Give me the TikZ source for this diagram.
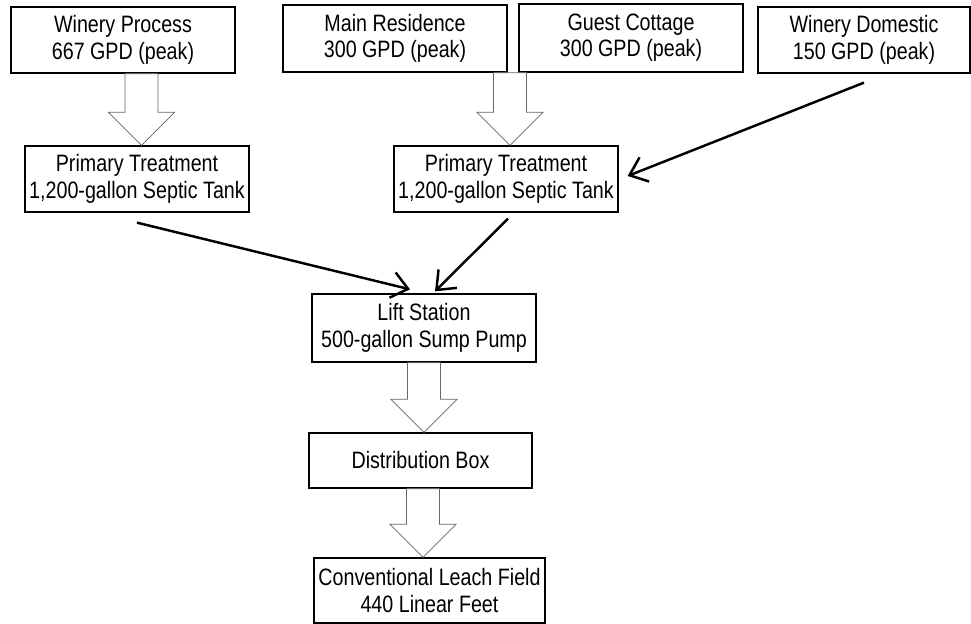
\documentclass[tikz,border=0pt]{standalone}
\usepackage{fontspec}
\setmainfont[FakeStretch=0.83]{Liberation Sans}
\usetikzlibrary{arrows.meta}
\usetikzlibrary{calc}
\def\shafthalf{0.33cm}
\def\headhalf{0.66cm}
\def\headlen{0.66cm}
\tikzset{
x=0.02cm,y=-0.02cm, % 1 unit = 1 pixel of the drawing
my box/.style={draw,line width=0.75pt,align=center,inner sep=0pt,
  font=\fontsize{13.5}{15}\selectfont,
  minimum width=4.48cm,minimum height=1.32cm},
flow/.style={-{Straight Barb[length=3.2mm,width=5.2mm]},line width=1.4pt},
fat/.style={draw=black!60,line width=0.45pt,fill=white}
}
% hollow block arrow: from a start point straight down to the y of an end point
\newcommand\fatarrow[2]{%
  \draw[fat] let \p1=#1, \p2=#2 in
    (\x1-\shafthalf,\y1) -- (\x1+\shafthalf,\y1) -- (\x1+\shafthalf,\y2+\headlen)
    -- (\x1+\headhalf,\y2+\headlen) -- (\x1,\y2) -- (\x1-\headhalf,\y2+\headlen)
    -- (\x1-\shafthalf,\y2+\headlen) -- cycle;}

\begin{document}
\begin{tikzpicture}
\useasboundingbox (0,0) rectangle (971,624);
% sources
\node[my box] (wp) at (123,40) {Winery Process\\667 GPD (peak)};
\node[my box,minimum height=1.34cm] (mr) at (395,38.5) {Main Residence\\300 GPD (peak)};
\node[my box,minimum height=1.36cm] (gc) at (631,38) {Guest Cottage\\300 GPD (peak)};
\node[my box,minimum width=4.24cm] (wd) at (864,40) {Winery Domestic\\150 GPD (peak)};
% tanks
\node[my box] (pt1) at (137,179) {Primary Treatment\\1,200-gallon Septic Tank};
\node[my box] (pt2) at (506,179) {Primary Treatment\\1,200-gallon Septic Tank};
\node[my box,minimum height=1.36cm] (ls) at (424,328) {Lift Station\\500-gallon Sump Pump};
\node[my box,minimum width=4.46cm,minimum height=1.1cm] (db) at (420.5,460.5) {Distribution Box};
\node[my box,minimum width=4.62cm,minimum height=1.3cm] (lf) at (429.5,590.5) {Conventional Leach Field\\440 Linear Feet};
% block arrows
\fatarrow{([xshift=0.37cm]wp.south)}{(pt1.north)}
\fatarrow{([xshift=-0.06cm]$(mr.south east)!0.5!(gc.south west)$)}{(pt2.north)}
\fatarrow{(ls.south)}{(db.north)}
\fatarrow{([xshift=0.05cm]db.south)}{(lf.north)}
% pipes
\draw[flow] ([yshift=-0.18cm]wd.south) -- ([xshift=0.18cm,yshift=0.06cm]pt2.east);
\draw[flow] ([yshift=-0.2cm]pt1.south) -- ([xshift=-0.28cm,yshift=0.08cm]ls.north);
\draw[flow] ([xshift=0.04cm,yshift=-0.12cm]pt2.south) -- ([xshift=0.22cm,yshift=0.04cm]ls.north);
\end{tikzpicture}
\end{document}
